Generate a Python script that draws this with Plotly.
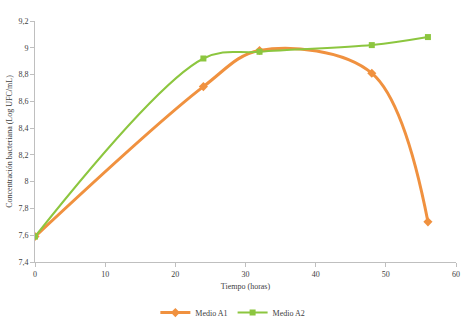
import plotly.graph_objects as go

horas = [0, 24, 32, 48, 56]
medio_a1 = [7.59, 8.71, 8.98, 8.81, 7.70]
medio_a2 = [7.59, 8.92, 8.97, 9.02, 9.08]

orange = "#F0913F"
green = "#8CC63F"
font = "Liberation Serif"

fig = go.Figure()
fig.add_trace(go.Scatter(
    x=horas, y=medio_a1, name="Medio A1", mode="lines+markers",
    line=dict(color=orange, width=3, shape="spline", smoothing=1.0),
    marker=dict(symbol="diamond", size=7, color=orange),
))
fig.add_trace(go.Scatter(
    x=horas, y=medio_a2, name="Medio A2", mode="lines+markers",
    line=dict(color=green, width=2, shape="spline", smoothing=1.0),
    marker=dict(symbol="square", size=6, color=green),
))

axis_common = dict(
    showgrid=False, zeroline=False, showline=True, linecolor="#BFBFBF", linewidth=1,
    ticks="outside", ticklen=4, tickcolor="#BFBFBF", automargin=False,
    tickfont=dict(family=font, size=8, color="#404040"),
)
fig.update_layout(
    width=462, height=322,
    margin=dict(l=35, r=6, t=21, b=60, autoexpand=False),
    paper_bgcolor="white", plot_bgcolor="white",
    separators=",.",
    font=dict(family=font, size=8, color="#404040"),
    xaxis=dict(range=[0, 60], dtick=10, tick0=0,
               title=dict(text="Tiempo (horas)", font=dict(family=font, size=8, color="#404040"), standoff=5),
               **axis_common),
    yaxis=dict(range=[7.4, 9.2], dtick=0.2, tick0=7.4,
               title=dict(text="Concentración bacteriana (Log UFC/mL)", font=dict(family=font, size=8, color="#404040"), standoff=4),
               **axis_common),
    legend=dict(orientation="h", x=0.47, xanchor="center", y=-0.21, yanchor="middle",
                font=dict(family=font, size=8, color="#404040"), itemwidth=30),
    showlegend=True,
)

fig.write_html("out.html", config={"displayModeBar": False},
               post_script="document.body.style.margin='0';")
